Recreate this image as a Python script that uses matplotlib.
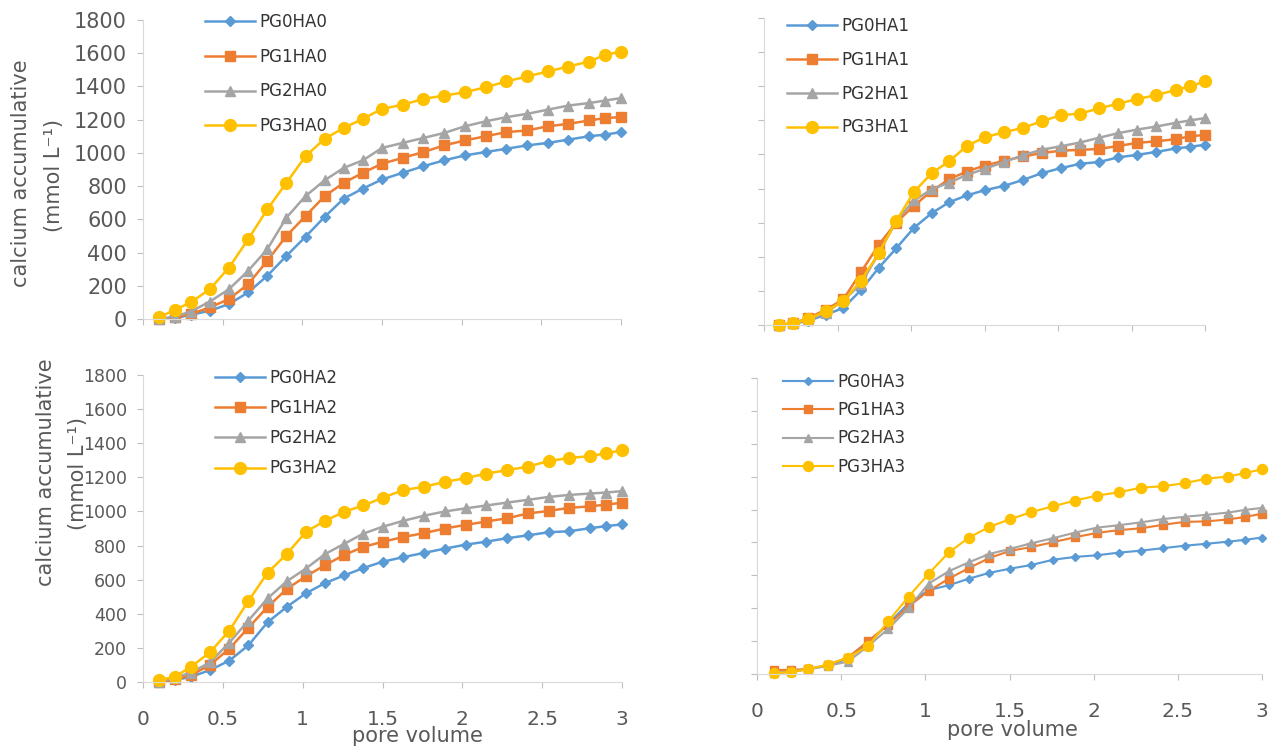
import matplotlib
matplotlib.use('Agg')
import matplotlib.pyplot as plt

W, H = 1269, 747

# pore volume (shared by every series)
pore_volume = [0.1, 0.2, 0.3, 0.42, 0.54, 0.66, 0.78, 0.9, 1.02, 1.14, 1.26, 1.38, 1.5,
               1.63, 1.76, 1.89, 2.02, 2.15, 2.28, 2.41, 2.54, 2.67, 2.8, 2.9, 3.0]

# HA0
pg0ha0 = [0, 5, 25, 50, 90, 160, 260, 380, 495, 615, 725, 785, 840,
          880, 920, 955, 985, 1005, 1025, 1045, 1060, 1080, 1100, 1110, 1125]
pg1ha0 = [0, 10, 30, 70, 120, 210, 350, 500, 620, 740, 820, 880, 935,
          970, 1005, 1045, 1075, 1100, 1125, 1135, 1160, 1175, 1195, 1210, 1215]
pg2ha0 = [0, 15, 45, 105, 180, 290, 420, 610, 740, 835, 910, 955, 1030,
          1060, 1090, 1120, 1160, 1190, 1215, 1235, 1260, 1285, 1300, 1315, 1330]
pg3ha0 = [10, 55, 100, 180, 310, 480, 660, 820, 980, 1085, 1150, 1205, 1265,
          1290, 1325, 1345, 1365, 1395, 1430, 1460, 1490, 1520, 1550, 1590, 1610]

# HA1
pg0ha1 = [0, 8, 25, 60, 100, 205, 335, 450, 570, 655, 720, 760, 790,
          815, 850, 890, 920, 945, 956, 983, 998, 1015, 1035, 1045, 1057]
pg1ha1 = [0, 10, 40, 90, 150, 310, 470, 600, 700, 785, 855, 900, 935,
          962, 988, 1008, 1022, 1027, 1032, 1050, 1068, 1077, 1090, 1106, 1115]
pg2ha1 = [0, 10, 30, 70, 145, 240, 420, 610, 730, 795, 835, 880, 915,
          955, 995, 1028, 1048, 1070, 1098, 1125, 1146, 1164, 1185, 1200, 1213]
pg3ha1 = [0, 10, 35, 80, 140, 260, 420, 610, 780, 890, 960, 1050, 1100,
          1130, 1155, 1195, 1230, 1240, 1270, 1298, 1325, 1348, 1378, 1400, 1428]

# HA2
pg0ha2 = [0, 12, 30, 70, 125, 215, 350, 440, 520, 580, 625, 668, 705,
          732, 757, 782, 805, 823, 843, 860, 878, 884, 902, 914, 924]
pg1ha2 = [0, 15, 40, 100, 195, 318, 440, 545, 620, 685, 745, 792, 822,
          850, 873, 900, 921, 941, 960, 988, 1003, 1021, 1030, 1040, 1051]
pg2ha2 = [0, 25, 55, 115, 230, 360, 490, 590, 665, 750, 810, 870, 910,
          945, 975, 1000, 1018, 1035, 1052, 1068, 1085, 1097, 1105, 1111, 1119]
pg3ha2 = [10, 32, 88, 175, 300, 475, 640, 750, 880, 945, 998, 1035, 1080,
          1125, 1145, 1173, 1195, 1222, 1242, 1263, 1295, 1314, 1324, 1342, 1358]

# HA3
pg0ha3 = [5, 15, 28, 50, 95, 185, 305, 430, 510, 540, 580, 615, 640,
          663, 695, 712, 722, 738, 750, 765, 780, 792, 805, 816, 830]
pg1ha3 = [25, 25, 30, 55, 100, 200, 300, 410, 505, 580, 645, 705, 748,
          772, 802, 832, 858, 875, 886, 907, 925, 928, 940, 955, 975]
pg2ha3 = [5, 15, 28, 50, 75, 170, 275, 400, 550, 625, 680, 730, 760,
          795, 826, 860, 890, 905, 922, 942, 956, 968, 982, 998, 1010]
pg3ha3 = [5, 12, 28, 57, 100, 170, 320, 470, 610, 740, 830, 895, 940,
          985, 1020, 1055, 1085, 1105, 1133, 1142, 1160, 1188, 1201, 1222, 1245]

panels = [
    ('HA0', [pg0ha0, pg1ha0, pg2ha0, pg3ha0]),
    ('HA1', [pg0ha1, pg1ha1, pg2ha1, pg3ha1]),
    ('HA2', [pg0ha2, pg1ha2, pg2ha2, pg3ha2]),
    ('HA3', [pg0ha3, pg1ha3, pg2ha3, pg3ha3]),
]

colors = ['#5B9BD5', '#ED7D31', '#A5A5A5', '#FFC000']
markers = ['D', 's', '^', 'o']
msizes = [5, 7, 7, 8.5]

# pixel boxes: x of 0, x of 3, y of 0, y of 1800
boxes = [(143, 621, 319, 20), (764, 1205, 325, 18),
         (143, 622, 682, 375), (757, 1262, 674, 378)]
# legend: left, top, labelspacing
legends = [(205, 13, 1.0), (787, 17, 0.95), (215, 369, 0.73), (783, 373, 0.61)]

fig = plt.figure(figsize=(W / 100, H / 100), dpi=100)

for i, (name, series) in enumerate(panels):
    x0, x1, yb, yt = boxes[i]
    ax = fig.add_axes([x0 / W, 1 - yb / H, (x1 - x0) / W, (yb - yt) / H])
    scale = 0.85 if i == 3 else 1.0
    for k, ys in enumerate(series):
        ax.plot(pore_volume, ys, color=colors[k], marker=markers[k],
                markersize=msizes[k] * scale, linewidth=1.8 * scale,
                label='PG%d%s' % (k, name), clip_on=False)
    ax.set_xlim(0, 3)
    ax.set_ylim(0, 1800)
    ax.set_xticks([0, 0.5, 1, 1.5, 2, 2.5, 3])
    ax.set_xticklabels(['0', '0.5', '1', '1.5', '2', '2.5', '3'])
    ax.set_yticks(range(0, 1801, 200))
    for s in ['top', 'right']:
        ax.spines[s].set_visible(False)
    for s in ['left', 'bottom']:
        ax.spines[s].set_color('#D9D9D9')
    ax.tick_params(axis='both', colors='#BFBFBF', length=4.5, labelcolor='#595959')
    ax.tick_params(axis='x', pad=16, labelsize=14.5)
    ax.tick_params(axis='y', pad=7, labelsize=15 if i == 0 else 12.5)
    if i < 2:
        ax.tick_params(axis='x', labelbottom=False)
    if i % 2 == 1:
        ax.tick_params(axis='y', labelleft=False)

    lx, ly, sp = legends[i]
    ax.legend(loc='upper left', bbox_to_anchor=(lx / W, 1 - ly / H),
              bbox_transform=fig.transFigure, frameon=False, borderpad=0,
              borderaxespad=0, handlelength=3.0, handletextpad=0.25,
              labelspacing=sp, fontsize=12, labelcolor='#333333')

# axis titles
lab = dict(color='#595959', fontsize=15, rotation=90, ha='center', va='center')
fig.text(21 / W, 1 - 173 / H, 'calcium accumulative', **lab)
fig.text(54 / W, 1 - 175 / H, '(mmol L⁻¹)', **lab)
fig.text(46 / W, 1 - 472 / H, 'calcium accumulative', **lab)
fig.text(78 / W, 1 - 474 / H, '(mmol L⁻¹)', **lab)
fig.text(417 / W, 1 - 736 / H, 'pore volume', color='#595959', fontsize=15,
         ha='center', va='center')
fig.text(1012 / W, 1 - 730 / H, 'pore volume', color='#595959', fontsize=15,
         ha='center', va='center')

fig.savefig('out.png', dpi=100, facecolor='white')
